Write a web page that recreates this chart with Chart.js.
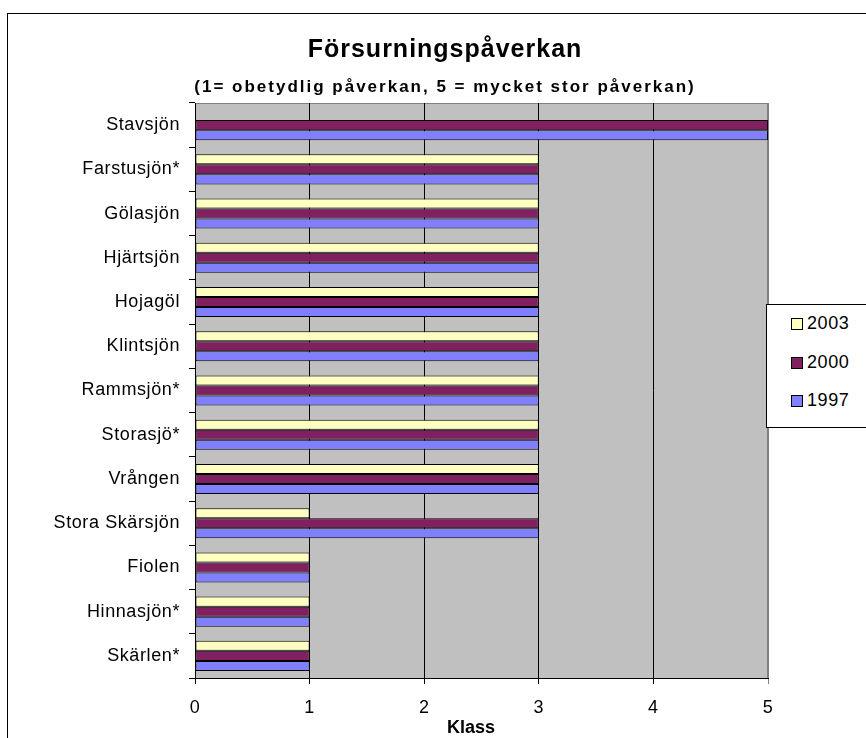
<!DOCTYPE html>
<html>
<head>
<meta charset="utf-8">
<script src="https://cdn.jsdelivr.net/npm/chart.js@4.4.0/dist/chart.umd.min.js"></script>
<style>
  html, body { margin: 0; padding: 0; background: #fff; overflow: hidden; }
  #wrap { position: relative; width: 866px; height: 738px; }
  #ram { position: absolute; left: 7px; top: 13px; width: 900px; height: 800px; border: 1px solid #000; box-sizing: border-box; }
  #grafico { position: absolute; left: 0; top: 0; }
  #legenda { position: absolute; left: 766px; top: 304px; width: 120px; height: 124px; border: 1px solid #000; background: #fff;
             box-sizing: border-box; font-family: Arial, "Liberation Sans", sans-serif; font-size: 18px; letter-spacing: 0.6px; }
  #legenda .rad { position: absolute; left: 24px; height: 22px; line-height: 22px; white-space: nowrap; }
  #legenda .ruta { display: inline-block; width: 12px; height: 12px; border: 1px solid #000; vertical-align: -1px; margin-right: 4px; box-sizing: border-box; }
</style>
</head>
<body>
<div id="wrap">
  <div id="ram"></div>
  <canvas id="grafico" width="866" height="738"></canvas>
  <div id="legenda"></div>
</div>
<script>
// sjöar, uppifrån och ner
const sjoar = ['Stavsjön', 'Farstusjön*', 'Gölasjön', 'Hjärtsjön', 'Hojagöl', 'Klintsjön',
               'Rammsjön*', 'Storasjö*', 'Vrången', 'Stora Skärsjön', 'Fiolen', 'Hinnasjön*', 'Skärlen*'];
const ar = ['2003', '2000', '1997'];
const klass2003 = [null, 3, 3, 3, 3, 3, 3, 3, 3, 1, 1, 1, 1];
const klass2000 = [5, 3, 3, 3, 3, 3, 3, 3, 3, 3, 1, 1, 1];
const klass1997 = [5, 3, 3, 3, 3, 3, 3, 3, 3, 3, 1, 1, 1];
const xTicks = [0, 1, 2, 3, 4, 5];
const farger = ['#FFFFC0', '#802060', '#8080FF'];

const rubrik = 'Försurningspåverkan';
const underrubrik = '(1= obetydlig påverkan, 5 = mycket stor påverkan)';
const xTitel = 'Klass';

const FONT = 'Arial, "Liberation Sans", sans-serif';

// Excel-liknande textspärrning
const sparrning = {
    id: 'sparrning',
    beforeUpdate(chart) { chart.ctx.letterSpacing = '0.6px'; },
    beforeDraw(chart) { chart.ctx.letterSpacing = '0.6px'; }
};

// bakgrund + ram runt ritytan
const plotBakgrund = {
    id: 'plotBakgrund',
    beforeDraw(chart) {
        const { ctx, chartArea: a } = chart;
        ctx.save();
        ctx.fillStyle = '#C0C0C0';
        ctx.fillRect(a.left, a.top, a.right - a.left, a.bottom - a.top);
        ctx.strokeStyle = '#808080';
        ctx.lineWidth = 1;
        ctx.strokeRect(a.left + 0.5, a.top + 0.5, a.right - a.left - 1, a.bottom - a.top);
        ctx.restore();
    }
};

// rubriker ritas själv för att kunna placeras som i originalet
const rubriker = {
    id: 'rubriker',
    afterDraw(chart) {
        const ctx = chart.ctx;
        const mitt = 445;
        ctx.save();
        ctx.fillStyle = '#000';
        ctx.textAlign = 'center';
        ctx.textBaseline = 'alphabetic';
        ctx.font = `bold 25px ${FONT}`;
        ctx.letterSpacing = '1px';
        ctx.fillText(rubrik, mitt, 57);
        ctx.font = `bold 17px ${FONT}`;
        ctx.letterSpacing = '2px';
        ctx.fillText(underrubrik, mitt, 92);
        ctx.font = `bold 18px ${FONT}`;
        ctx.letterSpacing = '0px';
        ctx.fillText(xTitel, 471, 733);
        ctx.restore();
    }
};

const datasets = [klass2003, klass2000, klass1997].map((data, i) => ({
    label: ar[i],
    data: data,
    backgroundColor: farger[i],
    borderColor: '#000',
    borderWidth: 1,
    borderSkipped: false,
    categoryPercentage: 0.68,
    barPercentage: 1
}));

new Chart(document.getElementById('grafico'), {
    type: 'bar',
    data: { labels: sjoar, datasets: datasets },
    options: {
        indexAxis: 'y',
        responsive: false,
        animation: false,
        layout: { padding: { top: 103, right: 98, left: 0, bottom: 0 } },
        plugins: {
            legend: { display: false },
            title: { display: false },
            tooltip: { enabled: false }
        },
        scales: {
            x: {
                min: 0,
                max: 5,
                afterBuildTicks: (scale) => { scale.ticks = xTicks.map(v => ({ value: v })); },
                afterFit: (scale) => { scale.height = 60; },
                border: { color: '#000', width: 1 },
                grid: {
                    color: (c) => (c.tick && c.tick.value === 5 ? '#808080' : '#000'),
                    lineWidth: 1,
                    tickLength: 6,
                    drawTicks: true
                },
                ticks: { color: '#000', font: { family: FONT, size: 18 }, padding: 13 }
            },
            y: {
                afterFit: (scale) => { scale.width = 195; },
                border: { color: '#000', width: 1 },
                grid: {
                    drawOnChartArea: false,
                    drawTicks: true,
                    tickLength: 6,
                    color: '#000'
                },
                ticks: { color: '#000', font: { family: FONT, size: 18 }, padding: 9 }
            }
        }
    },
    plugins: [sparrning, plotBakgrund, rubriker]
});

// förklaring
const legenda = document.getElementById('legenda');
ar.forEach((a, i) => {
    const rad = document.createElement('div');
    rad.className = 'rad';
    rad.style.top = Math.round(7 + i * 38.5) + 'px';
    rad.innerHTML = `<span class="ruta" style="background:${farger[i]}"></span>${a}`;
    legenda.appendChild(rad);
});
</script>
</body>
</html>
